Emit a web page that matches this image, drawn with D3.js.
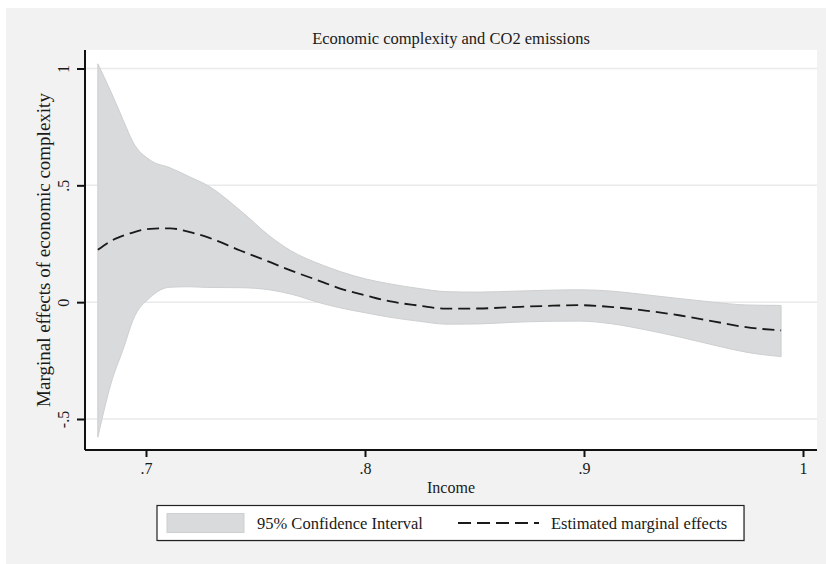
<!DOCTYPE html>
<html>
<head>
<meta charset="utf-8">
<script src="https://cdn.jsdelivr.net/npm/d3@7"></script>
<style>
  html, body { margin: 0; padding: 0; background: #ffffff; }
  svg { display: block; }
  svg text { font-family: "Liberation Serif", "DejaVu Serif", serif !important; fill: #1a1a1a; }
</style>
</head>
<body>
<svg id="chart" width="826" height="564"></svg>
<script>
// ---- data ----
const title = "Economic complexity and CO2 emissions";
const xLabel = "Income";
const yLabel = "Marginal effects of economic complexity";
const income = [0.678, 0.684, 0.690, 0.694, 0.702, 0.711, 0.720, 0.728, 0.743, 0.757, 0.766, 0.781, 0.789, 0.800, 0.811, 0.825, 0.837, 0.852, 0.868, 0.883, 0.898, 0.913, 0.928, 0.944, 0.959, 0.974, 0.990];
const upperCI = [1.02, 0.90, 0.77, 0.686, 0.607, 0.575, 0.536, 0.50, 0.393, 0.279, 0.221, 0.157, 0.13, 0.100, 0.079, 0.058, 0.045, 0.043, 0.047, 0.051, 0.053, 0.047, 0.032, 0.015, 0.0, -0.012, -0.014];
const lowerCI = [-0.578, -0.349, -0.19, -0.078, 0.021, 0.064, 0.066, 0.063, 0.062, 0.052, 0.035, -0.007, -0.025, -0.045, -0.064, -0.082, -0.094, -0.093, -0.086, -0.082, -0.081, -0.093, -0.118, -0.15, -0.183, -0.214, -0.233];
const marginalEffect = [0.224, 0.262, 0.286, 0.298, 0.314, 0.316, 0.300, 0.278, 0.221, 0.170, 0.136, 0.085, 0.057, 0.030, 0.004, -0.015, -0.028, -0.027, -0.021, -0.016, -0.013, -0.021, -0.036, -0.057, -0.082, -0.107, -0.121];
const xTicks = [0.7, 0.8, 0.9, 1.0];
const xTickLabels = [".7", ".8", ".9", "1"];
const yTicks = [-0.5, 0, 0.5, 1];
const yTickLabels = ["-.5", "0", ".5", "1"];
const legendLabels = ["95% Confidence Interval", "Estimated marginal effects"];

// ---- layout ----
const FONT = '"Liberation Serif", "DejaVu Serif", serif';
const svg = d3.select("#chart");
const W = 826, H = 564;
const plot = { left: 85, top: 50, right: 817, bottom: 450 };
const bandFill = "#d9dadb", bandStroke = "#cdcfd0";

svg.append("rect").attr("x", 6).attr("y", 8).attr("width", W - 6).attr("height", H - 8).attr("fill", "#f2f2f2");
svg.append("rect").attr("x", plot.left).attr("y", plot.top)
  .attr("width", plot.right - plot.left).attr("height", plot.bottom - plot.top).attr("fill", "#ffffff");

const x = d3.scaleLinear().domain([0.7, 1.0]).range([146, 803]);
const y = d3.scaleLinear().domain([-0.5, 1]).range([419, 68.5]);

// gridlines
svg.append("g").selectAll("line").data(yTicks).join("line")
  .attr("x1", plot.left).attr("x2", plot.right)
  .attr("y1", d => y(d)).attr("y2", d => y(d))
  .attr("stroke", "#eaeaea").attr("stroke-width", 1.5);

const rows = income.map((v, i) => ({ x: v, lo: lowerCI[i], hi: upperCI[i], m: marginalEffect[i] }));

// CI band
const area = d3.area().x(d => x(d.x)).y0(d => y(d.lo)).y1(d => y(d.hi)).curve(d3.curveMonotoneX);
svg.append("path").datum(rows).attr("d", area)
  .attr("fill", bandFill).attr("stroke", bandStroke).attr("stroke-width", 1);

// marginal effect line
const line = d3.line().x(d => x(d.x)).y(d => y(d.m)).curve(d3.curveMonotoneX);
svg.append("path").datum(rows).attr("d", line)
  .attr("fill", "none").attr("stroke", "#1a1a1a").attr("stroke-width", 1.8)
  .attr("stroke-dasharray", "12,6");

// axes
const xAxis = d3.axisBottom(x).tickValues(xTicks).tickFormat((d, i) => xTickLabels[i]).tickSize(7).tickPadding(6);
const gx = svg.append("g").attr("transform", `translate(0,${plot.bottom})`).call(xAxis);
gx.attr("font-family", null);
gx.select(".domain").attr("d", `M${plot.left},0H${plot.right}`).attr("stroke", "#111").attr("stroke-width", 2);
gx.selectAll(".tick line").attr("stroke", "#111").attr("stroke-width", 2);
gx.selectAll(".tick text").style("font-family", FONT).style("font-size", "16px").attr("fill", "#1a1a1a");

const yAxis = d3.axisLeft(y).tickValues(yTicks).tickFormat((d, i) => yTickLabels[i]).tickSize(8).tickPadding(8);
const gy = svg.append("g").attr("transform", `translate(${plot.left},0)`).call(yAxis);
gy.attr("font-family", null);
gy.select(".domain").attr("d", `M0,${plot.top}V${plot.bottom}`).attr("stroke", "#111").attr("stroke-width", 2);
gy.selectAll(".tick line").attr("stroke", "#111").attr("stroke-width", 2);
gy.selectAll(".tick text")
  .style("font-family", FONT).style("font-size", "16px").attr("fill", "#1a1a1a")
  .attr("transform", "rotate(-90)").attr("x", 0).attr("y", -16).attr("dy", 0)
  .attr("text-anchor", "middle");

// titles
svg.append("text").attr("x", (plot.left + plot.right) / 2).attr("y", 43.5)
  .attr("text-anchor", "middle").style("font-family", FONT).style("font-size", "16.5px").text(title);
svg.append("text").attr("x", (plot.left + plot.right) / 2).attr("y", 493)
  .attr("text-anchor", "middle").style("font-family", FONT).style("font-size", "16px").text(xLabel);
svg.append("text").attr("transform", `translate(50,${(plot.top + plot.bottom) / 2}) rotate(-90)`)
  .attr("text-anchor", "middle").style("font-family", FONT).style("font-size", "19px").text(yLabel);

// legend
const lg = svg.append("g");
lg.append("rect").attr("x", 158).attr("y", 506.5).attr("width", 587).attr("height", 35)
  .attr("fill", "#cfcfcf");
lg.append("rect").attr("x", 157).attr("y", 505.5).attr("width", 587).attr("height", 35)
  .attr("fill", "#ffffff").attr("stroke", "#222").attr("stroke-width", 1.2);
lg.append("rect").attr("x", 167).attr("y", 513.5).attr("width", 77).attr("height", 19)
  .attr("fill", bandFill).attr("stroke", bandStroke).attr("stroke-width", 1);
lg.append("text").attr("x", 257).attr("y", 529).style("font-family", FONT).style("font-size", "16.5px").text(legendLabels[0]);
lg.append("line").attr("x1", 458).attr("x2", 539).attr("y1", 523).attr("y2", 523)
  .attr("stroke", "#1a1a1a").attr("stroke-width", 1.8).attr("stroke-dasharray", "13,6");
lg.append("text").attr("x", 551).attr("y", 529).style("font-family", FONT).style("font-size", "16.5px").text(legendLabels[1]);
</script>
</body>
</html>
